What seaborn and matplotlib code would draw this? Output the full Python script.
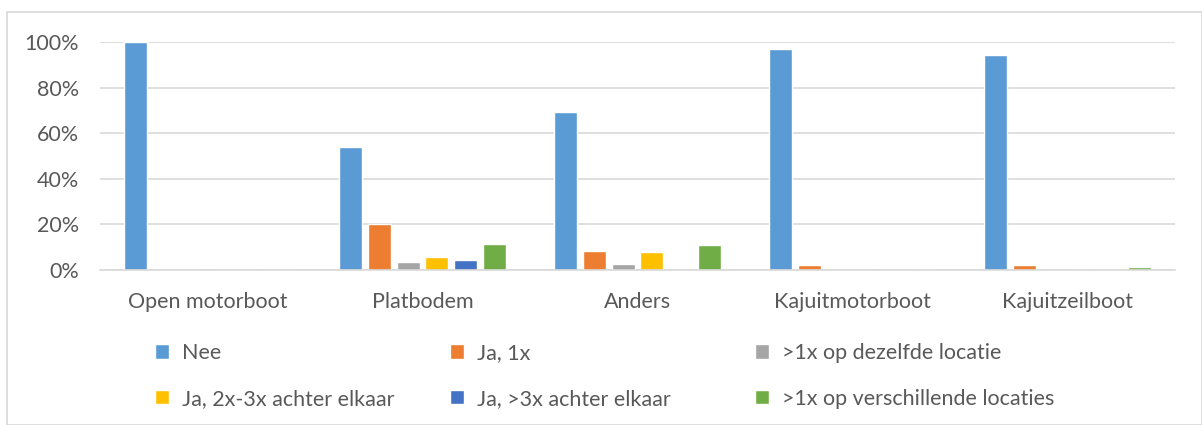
import matplotlib
matplotlib.use("Agg")
import matplotlib.pyplot as plt
import matplotlib.patches as mpatches
import seaborn as sns
import pandas as pd

categories = ["Open motorboot", "Platbodem", "Anders", "Kajuitmotorboot", "Kajuitzeilboot"]
series = ["Nee", "Ja, 1x", ">1x op dezelfde locatie",
          "Ja, 2x-3x achter elkaar", "Ja, >3x achter elkaar", ">1x op verschillende locaties"]
nee = [100, 54, 69.3, 97.0, 94.5]
ja_1x = [0, 20, 8.2, 2.1, 2.2]
dezelfde = [0, 3.3, 2.7, 0, 0]
ja_2x3x = [0, 5.7, 8.1, 0, 0.5]
ja_gt3x = [0, 4.5, 0, 0, 0.3]
verschillende = [0, 11.5, 10.9, 0.6, 1.3]
colors = ["#5B9BD5", "#ED7D31", "#A5A5A5", "#FFC000", "#4472C4", "#70AD47"]
yticks = [0, 20, 40, 60, 80, 100]
ytick_labels = ["0%", "20%", "40%", "60%", "80%", "100%"]

rows = []
for s, vals in zip(series, [nee, ja_1x, dezelfde, ja_2x3x, ja_gt3x, verschillende]):
    for c, v in zip(categories, vals):
        rows.append({"cat": c, "series": s, "val": v})
df = pd.DataFrame(rows)

sns.set_theme(style="white")
plt.rcParams["font.family"] = ["Lato", "DejaVu Sans"]
txt = "#595959"
fs = 15.5

W, H = 1202, 425
fig = plt.figure(figsize=(W / 100, H / 100), dpi=100)
ax = fig.add_axes([100 / W, 1 - 270 / H, 1075 / W, 228 / H])

sns.barplot(data=df, x="cat", y="val", hue="series", order=categories,
            hue_order=series, palette=colors, width=0.8, gap=0.2,
            saturation=1, ax=ax, legend=True)

ax.set_ylim(0, 100)
ax.set_xlim(-0.5, len(categories) - 0.5)
ax.set_yticks(yticks)
ax.set_yticklabels(ytick_labels)
ax.yaxis.grid(True, color="#D9D9D9", linewidth=1.2)
ax.set_axisbelow(True)
for sp in ["top", "right", "left"]:
    ax.spines[sp].set_visible(False)
ax.spines["bottom"].set_color("#D9D9D9")
ax.spines["bottom"].set_linewidth(1.2)
ax.tick_params(axis="y", length=0, pad=15, labelsize=fs, labelcolor=txt)
ax.tick_params(axis="x", length=0, pad=16, labelsize=fs, labelcolor=txt)
ax.set_xlabel("")
ax.set_ylabel("")

handles, labels = ax.get_legend_handles_labels()
ax.get_legend().remove()

col_x = [155, 450, 755]
for i, x in enumerate(col_x):
    idx = [i, i + 3]
    fig.legend([handles[j] for j in idx], [labels[j] for j in idx],
               loc="upper left", bbox_to_anchor=(x / W, 1 - 343 / H),
               frameon=False, fontsize=fs, labelcolor=txt,
               handlelength=0.65, handleheight=0.65, handletextpad=0.6,
               labelspacing=1.2, borderaxespad=0, borderpad=0)

fig.patches.append(mpatches.Rectangle((7 / W, 0), 1 - 7 / W, 1 - 12 / H,
                                      transform=fig.transFigure, fill=False,
                                      edgecolor="#D9D9D9", linewidth=1.2))

fig.savefig("out.png", dpi=100, facecolor="white")
